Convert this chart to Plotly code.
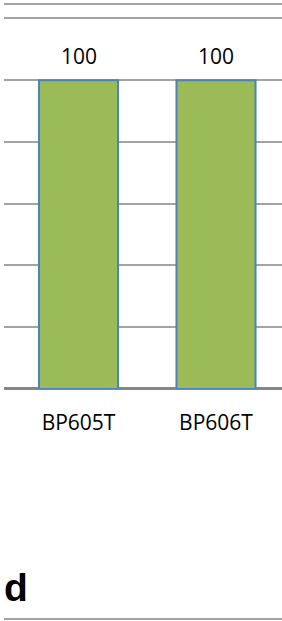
import plotly.graph_objects as go

categories = ["BP605T", "BP606T"]
values = [100, 100]
y_ticks = [0, 20, 40, 60, 80, 100, 120]
panel_label = "d"

W, H = 282, 621
Y0_PX, PX_PER_UNIT = 389, 3.0883
Y_TOP = 121
fig = go.Figure()
fig.add_trace(go.Bar(
    x=categories, y=values, width=0.575,
    marker=dict(color="#9BBB59", line=dict(color="#4F81BD", width=2)),
    hoverinfo="skip",
))
for c, v in zip(categories, values):
    fig.add_annotation(x=c, y=v, text=str(v), showarrow=False,
                       yanchor="bottom", yshift=8,
                       font=dict(family="Open Sans", size=21, color="#000"))

fig.update_layout(
    width=W, height=H, margin=dict(l=4, r=0, t=0, b=0),
    paper_bgcolor="white", plot_bgcolor="white", showlegend=False,
    xaxis=dict(type="category", range=[-0.542, 1.48], showgrid=False,
               zeroline=False, showline=False, ticks="",
               tickfont=dict(family="Open Sans", size=21, color="#000"),
               ticklabelstandoff=19),
    yaxis=dict(range=[0, Y_TOP], tickvals=y_ticks, showticklabels=False,
               domain=[(H - Y0_PX) / H, (H - (Y0_PX - Y_TOP * PX_PER_UNIT)) / H],
               showgrid=True, gridcolor="#a3a3a3", gridwidth=2,
               zeroline=True, zerolinecolor="#868686", zerolinewidth=3,
               showline=False, ticks=""),
    shapes=[
        dict(type="line", xref="paper", yref="paper", x0=0, x1=1.02,
             y0=(H - 4) / H, y1=(H - 4) / H, line=dict(color="#a3a3a3", width=2)),
        dict(type="line", xref="paper", yref="paper", x0=0, x1=1.02,
             y0=(H - 619) / H, y1=(H - 619) / H, line=dict(color="#a3a3a3", width=2)),
    ],
)
fig.add_annotation(xref="paper", yref="paper", x=-0.007, y=(H - 587) / H,
                   text="<b>%s</b>" % panel_label, showarrow=False,
                   xanchor="left", yanchor="middle",
                   font=dict(family="Liberation Sans", size=39, color="#000"))

fig.write_html("out.html", config={"displayModeBar": False},
               post_script="document.body.style.margin='0';document.body.style.overflow='hidden';")
